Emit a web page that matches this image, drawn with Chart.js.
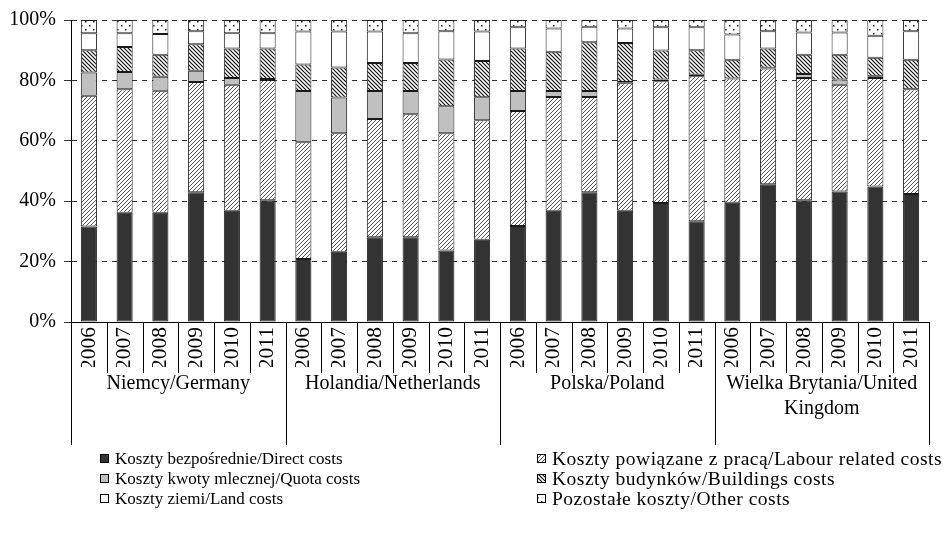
<!DOCTYPE html>
<html>
<head>
<meta charset="utf-8">
<script src="https://cdn.jsdelivr.net/npm/chart.js@4"></script>
<style>
  body { margin: 0; background: #fff; }
  #wrap { width: 948px; height: 544px; position: relative; }
</style>
</head>
<body>
<div id="wrap"><canvas id="chart"></canvas></div>
<script>
// grupy i lata
const countries = ["Niemcy/Germany", "Holandia/Netherlands", "Polska/Poland", ["Wielka Brytania/United", "Kingdom"]];
const years = ["2006", "2007", "2008", "2009", "2010", "2011"];
const categories = countries.flatMap(() => years);

// udział kosztów w %
const directCosts    = [31.6, 36.2, 36.2, 43.0, 36.8, 40.3,  20.9, 23.3, 28.1, 28.1, 23.7, 27.2,  31.8, 36.8, 43.0, 36.8, 39.4, 33.4,  39.5, 45.6, 40.3, 43.2, 44.9, 42.4];
const labourCosts    = [43.3, 40.9, 40.4, 36.5, 41.8, 39.8,  38.6, 39.2, 39.1, 40.7, 38.8, 39.6,  38.1, 37.7, 31.5, 42.4, 40.3, 48.0,  41.1, 38.3, 40.5, 35.4, 35.9, 34.7];
const quotaCosts     = [7.7, 5.7, 4.6, 3.7, 2.2, 0.4,  17.0, 11.8, 9.3, 7.7, 8.9, 7.6,  6.6, 2.0, 2.0, 0.3, 0.6, 0.5,  0, 0.3, 1.3, 1.7, 0.6, 0];
const buildingsCosts = [7.4, 8.3, 7.3, 8.8, 9.8, 10.1,  8.8, 10.0, 9.3, 9.3, 15.5, 12.0,  14.1, 13.0, 16.1, 12.9, 9.6, 8.1,  6.2, 6.4, 6.4, 8.2, 6.1, 9.7];
const landCosts      = [5.6, 4.5, 6.9, 4.3, 5.0, 5.0,  10.9, 11.9, 10.4, 9.8, 9.4, 9.8,  7.0, 7.7, 5.2, 4.8, 7.7, 7.6,  8.4, 5.7, 7.4, 7.4, 7.3, 9.5];
const otherCosts     = [4.4, 4.4, 4.6, 3.7, 4.4, 4.4,  3.8, 3.8, 3.8, 4.4, 3.7, 3.8,  2.4, 2.8, 2.2, 2.8, 2.4, 2.4,  4.8, 3.7, 4.1, 4.1, 5.2, 3.7];

const yTicks = [0, 20, 40, 60, 80, 100];

const FONT = "'Liberation Serif', 'Times New Roman', serif";

// wzory wypełnienia
function makePattern(size, draw) {
    const c = document.createElement("canvas");
    c.width = size;
    c.height = size;
    const g = c.getContext("2d");
    g.fillStyle = "#fff";
    g.fillRect(0, 0, size, size);
    draw(g, size);
    return g.createPattern(c, "repeat");
}

const ctx = document.getElementById("chart").getContext("2d");

const labourFill = makePattern(4, (g, s) => {
    g.strokeStyle = "#555";
    g.lineWidth = 1;
    g.beginPath();
    g.moveTo(0, s); g.lineTo(s, 0);
    g.moveTo(-1, 1); g.lineTo(1, -1);
    g.moveTo(s - 1, s + 1); g.lineTo(s + 1, s - 1);
    g.stroke();
});

const buildingsFill = makePattern(4, (g, s) => {
    g.strokeStyle = "#111";
    g.lineWidth = 1.2;
    g.beginPath();
    g.moveTo(0, 0); g.lineTo(s, s);
    g.moveTo(-1, s - 1); g.lineTo(1, s + 1);
    g.moveTo(s - 1, -1); g.lineTo(s + 1, 1);
    g.stroke();
});

const otherFill = makePattern(8, (g) => {
    g.fillStyle = "#111";
    g.fillRect(1, 1, 1.5, 1.5);
    g.fillRect(5, 5, 1.5, 1.5);
});

const series = [
    { label: "Koszty bezpośrednie/Direct costs", data: directCosts, fill: "#333333" },
    { label: "Koszty powiązane z pracą/Labour related costs", data: labourCosts, fill: labourFill },
    { label: "Koszty kwoty mlecznej/Quota costs", data: quotaCosts, fill: "#c0c0c0" },
    { label: "Koszty budynków/Buildings costs", data: buildingsCosts, fill: buildingsFill },
    { label: "Koszty ziemi/Land costs", data: landCosts, fill: "#ffffff" },
    { label: "Pozostałe koszty/Other costs", data: otherCosts, fill: otherFill }
];

// pionowe kreski pod osią: między latami i dłuższe między krajami
const separators = {
    id: "separators",
    afterDraw(chart) {
        const x = chart.scales.x;
        const x2 = chart.scales.x2;
        const n = chart.data.labels.length;
        const step = x.getPixelForValue(1) - x.getPixelForValue(0);
        const top = chart.chartArea.bottom;
        const c = chart.ctx;
        c.save();
        c.strokeStyle = "#000";
        c.lineWidth = 1;
        c.beginPath();
        for (let i = 0; i <= n; i++) {
            const px = Math.round(x.getPixelForValue(i) - step / 2) + 0.5;
            const end = (i % years.length === 0) ? x2.bottom : top + 51;
            c.moveTo(px, top);
            c.lineTo(px, end);
        }
        c.stroke();
        c.restore();
    }
};

// legenda w dwóch kolumnach
const gridLegend = {
    id: "gridLegend",
    afterDraw(chart) {
        const c = chart.ctx;
        const colX = [100, 537];
        const colFont = [17, 19.5];
        const colSpacing = ["0px", "0.5px"];
        const rowY = [459, 479, 499];
        c.save();
        c.textBaseline = "middle";
        chart.data.datasets.forEach((ds, i) => {
            const col = i % 2;
            const x = colX[col];
            const y = rowY[Math.floor(i / 2)];
            c.fillStyle = ds.backgroundColor;
            c.fillRect(x, y - 5, 9, 9);
            c.strokeStyle = "#000";
            c.lineWidth = 1;
            c.strokeRect(x + 0.5, y - 4.5, 8, 8);
            c.fillStyle = "#000";
            c.font = colFont[col] + "px " + FONT;
            c.letterSpacing = colSpacing[col];
            c.fillText(ds.label, x + 15, y + 1);
        });
        c.restore();
    }
};

new Chart(ctx, {
    type: "bar",
    data: {
        labels: categories,
        datasets: series.map(s => ({
            label: s.label,
            data: s.data,
            backgroundColor: s.fill,
            borderColor: "#1a1a1a",
            borderWidth: 1,
            borderSkipped: false,
            barPercentage: 0.45,
            categoryPercentage: 1
        }))
    },
    options: {
        responsive: true,
        maintainAspectRatio: false,
        animation: false,
        layout: { padding: { left: 0, right: 19, top: 18, bottom: 99 } },
        plugins: {
            legend: { display: false },
            tooltip: { enabled: false }
        },
        scales: {
            x: {
                stacked: true,
                grid: { display: false, drawTicks: false },
                border: { display: true, color: "#000", width: 1 },
                afterFit: s => { s.height = 45; },
                ticks: {
                    autoSkip: false,
                    minRotation: 90,
                    maxRotation: 90,
                    padding: 5,
                    color: "#000",
                    font: { family: FONT, size: 21.5 }
                }
            },
            x2: {
                type: "category",
                axis: "x",
                position: "bottom",
                labels: countries,
                offset: true,
                grid: { display: false, drawTicks: false },
                border: { display: false },
                afterFit: s => { s.height = 78; },
                ticks: {
                    autoSkip: false,
                    minRotation: 0,
                    maxRotation: 0,
                    padding: 4,
                    color: "#000",
                    font: { family: FONT, size: 20, lineHeight: "25px" }
                }
            },
            y: {
                stacked: true,
                min: 0,
                max: 100,
                afterBuildTicks: axis => { axis.ticks = yTicks.map(v => ({ value: v })); },
                afterFit: s => { s.width = 71; },
                grid: { color: "#333", lineWidth: 1, tickLength: 7, tickBorderDash: [] },
                border: { display: true, color: "#000", width: 1, dash: [5, 5] },
                ticks: {
                    padding: 8,
                    color: "#000",
                    font: { family: FONT, size: 20 },
                    callback: v => v + "%"
                }
            }
        }
    },
    plugins: [separators, gridLegend]
});
</script>
</body>
</html>
